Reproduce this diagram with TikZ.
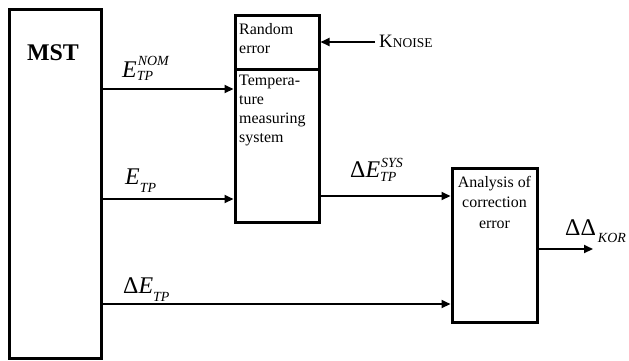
\documentclass[tikz,border=0pt]{standalone}
\usepackage{fontspec}
\setmainfont{Liberation Serif}
\usetikzlibrary{arrows.meta}
\newcommand\lbig{\fontsize{24}{24}\selectfont}
\newcommand\lsm{\fontsize{14}{14}\selectfont\itshape}
\newcommand\boxfont{\fontsize{16}{19}\selectfont}
\begin{document}
\begin{tikzpicture}[x=1bp,y=-1bp,
  blk/.style={draw, line width=3bp, inner sep=0pt, fill=none},
  arr/.style={line width=2bp, -{Triangle[length=9bp,width=8bp]}},
  txt/.style={inner sep=0pt, anchor=base west, align=left, font=\boxfont},
  lab/.style={inner sep=0pt, anchor=base west, font=\lbig}]
\useasboundingbox (0,0) rectangle (629,360);
% blocks
\node[blk, minimum width=91bp, minimum height=349bp] (mst) at (55.5,183.5) {};
\node[blk, minimum width=84bp, minimum height=54bp] (rnd) at (277,42) {};
\node[blk, minimum width=84bp, minimum height=153bp] (tms) at (277,145.5) {};
\node[blk, minimum width=85bp, minimum height=154bp] (ana) at (494.5,245) {};
% block texts (base anchor = baseline of the last line)
\node[inner sep=0pt, anchor=base, font=\fontsize{24}{24}\selectfont\bfseries] (mstt) at (53,60) {MST};
\node[txt] (rndt) at (239,53) {Random\\error};
\node[txt] (tmst) at (239,142) {Tempera-\\ture\\measuring\\system};
\node[txt, anchor=base, align=center, font=\fontsize{16}{20.5}\selectfont] (anat) at (494.5,228) {Analysis of\\correction\\error};
% level coordinates
\coordinate (ynom) at (0,89);
\coordinate (yetp) at (0,199);
\coordinate (ydet) at (0,304);
\coordinate (ysys) at (0,196);
\coordinate (ykn) at (0,42);
\coordinate (kstart) at (375,42);
\coordinate (outend) at (593,249);
% connectors
\draw[arr] (mst.east |- ynom) -- (tms.west |- ynom);
\draw[arr] (mst.east |- yetp) -- (tms.west |- yetp);
\draw[arr] (mst.east |- ydet) -- (ana.west |- ydet);
\draw[arr] (tms.east |- ysys) -- (ana.west |- ysys);
\draw[arr] (kstart) -- (rnd.east |- ykn);
\draw[arr] (ana.east |- outend) -- (outend);
% labels
\node[lab] (lnom) at (122,77) {\itshape E\makebox[0pt][l]{\kern1bp\raisebox{12bp}{\lsm NOM}}\raisebox{-3bp}{\lsm TP}};
\node[lab] (letp) at (125,184) {\itshape E\raisebox{-8bp}{\lsm TP}};
\node[lab] (ldet) at (123,293) {Δ\itshape E\raisebox{-8bp}{\lsm TP}};
\node[lab] (lsys) at (350,177) {Δ\itshape E\makebox[0pt][l]{\kern1bp\raisebox{10bp}{\lsm SYS}}\raisebox{-4bp}{\lsm TP}};
\node[lab] (lkor) at (565,235) {ΔΔ\kern2bp\raisebox{-7bp}{\lsm KOR}};
\node[inner sep=0pt, anchor=base west] (lkn) at (379,47) {\fontsize{19}{19}\selectfont K\fontsize{13.5}{13.5}\selectfont NOISE};
\end{tikzpicture}
\end{document}
